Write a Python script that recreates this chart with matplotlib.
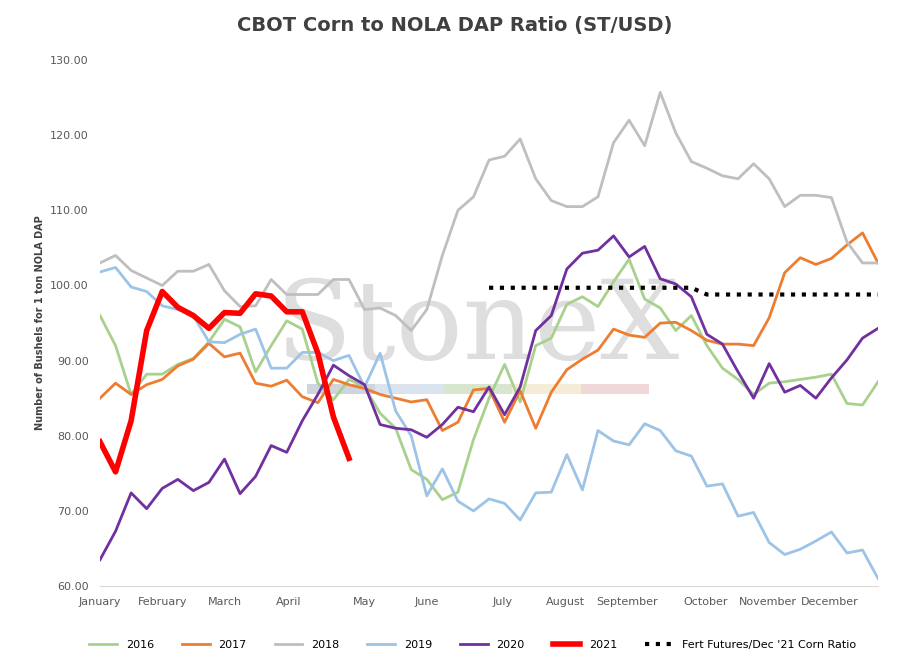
import numpy as np
import matplotlib
matplotlib.use("Agg")
from matplotlib import pyplot as plt

months = ['January', 'February', 'March', 'April', 'May', 'June', 'July',
          'August', 'September', 'October', 'November', 'December']
month_pos = [0, 4.0, 8.0, 12.1, 17.0, 21.0, 25.9, 29.9, 33.9, 38.9, 42.9, 46.9]

s2016 = [96, 92, 85.5, 88.2, 88.2, 89.5, 90.3, 92.5, 95.5, 94.5, 88.5, 92, 95.3, 94.2, 87, 84.8,
         87.5, 86.5, 83, 81, 75.5, 74.2, 71.5, 72.5, 79.5, 85, 89.5, 84.5, 92, 93, 97.5, 98.5,
         97.2, 100.5, 103.5, 98.2, 97, 94, 96, 92, 89, 87.5, 85.5, 87, 87.2, 87.5, 87.8, 88.2,
         84.3, 84.1, 87.2]
s2017 = [85, 87, 85.5, 86.8, 87.5, 89.3, 90.2, 92.3, 90.5, 91, 87, 86.6, 87.4, 85.2, 84.4, 87.5,
         86.8, 86.3, 85.5, 85, 84.5, 84.8, 80.7, 81.8, 86.1, 86.3, 81.8, 86, 81, 85.8, 88.8,
         90.2, 91.4, 94.2, 93.4, 93.1, 95, 95.1, 94, 92.7, 92.2, 92.2, 92, 95.7, 101.7, 103.7,
         102.8, 103.6, 105.4, 107, 103]
s2018 = [103, 104, 102, 101, 100, 101.9, 101.9, 102.8, 99.3, 97.2, 97.3, 100.8, 98.8, 98.8, 98.8,
         100.8, 100.8, 96.8, 97, 96, 94, 96.8, 104, 110, 111.8, 116.7, 117.2, 119.5, 114.2, 111.3,
         110.5, 110.5, 111.8, 119, 122, 118.6, 125.7, 120.3, 116.5, 115.6, 114.6, 114.2, 116.2,
         114.2, 110.5, 112, 112, 111.7, 105.8, 103, 103]
s2019 = [101.8, 102.4, 99.8, 99.2, 97.3, 96.8, 96, 92.5, 92.4, 93.5, 94.2, 89, 89, 91.1, 91.1, 90,
         90.7, 86.5, 91, 83.3, 80, 72, 75.6, 71.3, 70, 71.6, 71, 68.8, 72.4, 72.5, 77.5, 72.8,
         80.7, 79.3, 78.8, 81.6, 80.7, 78, 77.3, 73.3, 73.6, 69.3, 69.8, 65.8, 64.2, 64.9, 66,
         67.2, 64.4, 64.8, 61]
s2020 = [63.5, 67.3, 72.4, 70.3, 73, 74.2, 72.7, 73.8, 76.9, 72.3, 74.6, 78.7, 77.8, 82, 85.5, 89.4,
         88, 86.8, 81.5, 81, 80.8, 79.8, 81.5, 83.8, 83.2, 86.5, 82.8, 86.5, 94, 96, 102.2, 104.3,
         104.7, 106.6, 103.8, 105.2, 100.9, 100.2, 98.5, 93.5, 92.2, 88.5, 85, 89.6, 85.8, 86.7,
         85, 87.7, 90.1, 93, 94.3]
s2021 = [79.2, 75.2, 82, 94, 99.2, 97.1, 96, 94.3, 96.4, 96.3, 98.9, 98.6, 96.5, 96.5, 91, 82.5, 77]
fert_weeks = list(range(25, 51))
fert = [99.7] * 14 + [98.8] * 12

fig = plt.figure(figsize=(9.09, 6.6), dpi=100)
ax = fig.add_axes([0.11, 0.112, 0.856, 0.797])

# watermark
ax.text(0.485, 0.49, 'StoneX', transform=ax.transAxes, fontsize=80, family='DejaVu Serif',
        color='#dedede', ha='center', va='center', zorder=0)
for i, c in enumerate(['#d0d4dc', '#dbe4ee', '#d8e6d0', '#f4ecd6', '#f0d8d8']):
    ax.axvspan(13.3 + i * 4.4, 13.3 + (i + 1) * 4.4, ymin=0.365, ymax=0.385, color=c, zorder=0, lw=0)

series = [(s2016, '2016', '#a9d18e', 2), (s2017, '2017', '#ed7d31', 2),
          (s2018, '2018', '#bfbfbf', 2), (s2019, '2019', '#9dc3e6', 2),
          (s2020, '2020', '#7030a0', 2), (s2021, '2021', '#ff0000', 4)]
for vals, lab, col, lw in series:
    ax.plot(range(len(vals)), vals, color=col, lw=lw, label=lab)
ax.plot(fert_weeks, fert, color='black', ls=(0, (1, 1.6)), lw=3, label="Fert Futures/Dec '21 Corn Ratio")

ax.set_xlim(0, 50)
ax.set_ylim(60, 130)
ax.set_yticks(np.arange(60, 131, 10))
ax.set_yticklabels([f'{v:.2f}' for v in range(60, 131, 10)], fontsize=8, color='#595959')
ax.set_xticks(month_pos)
ax.set_xticklabels(months, fontsize=8, color='#595959')
ax.tick_params(length=0, pad=8)
for sp in ['top', 'right', 'left']:
    ax.spines[sp].set_visible(False)
ax.spines['bottom'].set_color('#d9d9d9')
ax.set_ylabel('Number of Bushels for 1 ton NOLA DAP', fontsize=7, fontweight='bold', color='#404040')
fig.suptitle('CBOT Corn to NOLA DAP Ratio (ST/USD)', y=0.975, fontsize=14, fontweight='bold', color='#404040')
fig.legend(loc='lower center', ncol=7, frameon=False, fontsize=8, bbox_to_anchor=(0.52, 0.0),
           handlelength=2.5, columnspacing=2.5)
fig.savefig('out.png', dpi=100)
